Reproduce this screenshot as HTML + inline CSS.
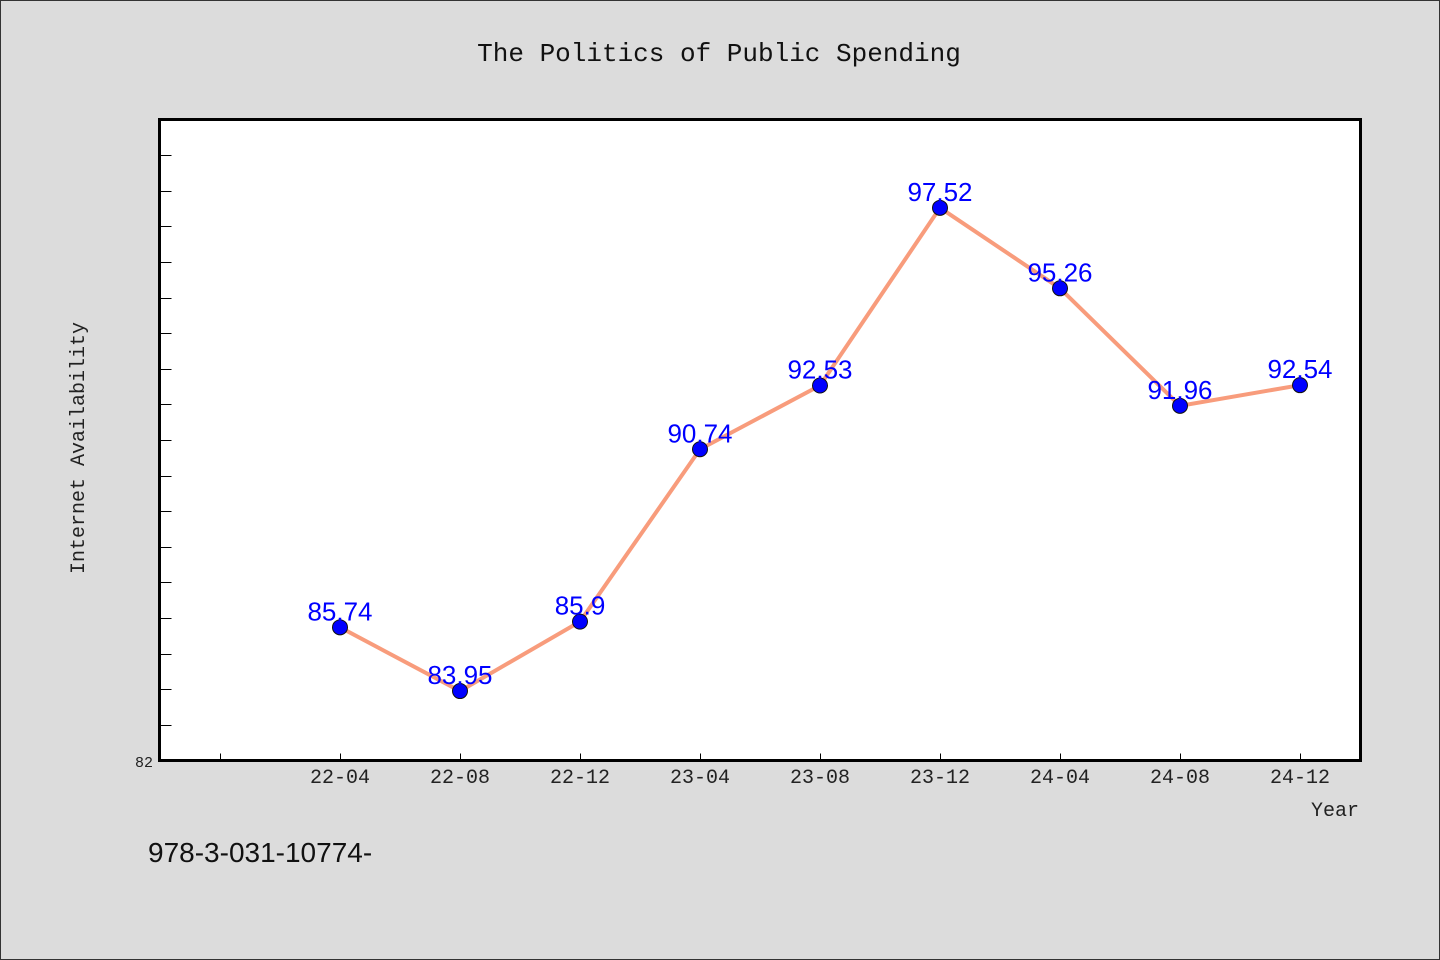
<!DOCTYPE html>
<html><head><meta charset="utf-8"><style>
html,body{margin:0;padding:0;background:#dcdcdc;}
svg{display:block;font-family:"Liberation Mono","WenQuanYi Zen Hei",monospace;}
</style></head><body>
<svg width="1440" height="960" viewBox="0 0 1440 960" xmlns="http://www.w3.org/2000/svg">
<rect x="0.5" y="0.5" width="1439" height="959" fill="#dcdcdc" stroke="#333"/>
<text x="719" y="61" text-anchor="middle" font-size="26" fill="#111">The Politics of Public Spending</text>
<rect x="159.5" y="119.5" width="1201" height="641" fill="#fff"/>
<g id="ticks"></g>
<polyline id="line" fill="none" stroke="#f89c7c" stroke-width="4"/>
<g id="pts"></g>
<rect x="159.5" y="119.5" width="1201" height="641" fill="none" stroke="#000" stroke-width="3"/>
<text transform="translate(84,448) rotate(-90)" text-anchor="middle" font-size="20" fill="#222">Internet Availability</text>
<text x="1359" y="816" text-anchor="end" font-size="20" fill="#222">Year</text>
<text x="153" y="767" text-anchor="end" font-size="15" fill="#222">82</text>
<text x="148" y="862" font-size="28" fill="#111" font-family="Liberation Sans, sans-serif">978-3-031-10774-</text>
</svg>
<script>
const categories=["22-04","22-08","22-12","23-04","23-08","23-12","24-04","24-08","24-12"];
const values=[85.74,83.95,85.9,90.74,92.53,97.52,95.26,91.96,92.54];
const labels=["85.74","83.95","85.9","90.74","92.53","97.52","95.26","91.96","92.54"];
const yMin=82,yMax=100;
const NS="http://www.w3.org/2000/svg";
const X0=159.5,X1=1360.5,Y0=760.5,Y1=119.5;
function xs(i){return 340+120*i;}
function ys(v){return Y0-(v-yMin)/(yMax-yMin)*(Y0-Y1);}
const tg=document.getElementById('ticks');
for(let v=yMin+1;v<yMax;v++){
 const l=document.createElementNS(NS,'line');
 
 
 l.setAttribute('x1',X0);l.setAttribute('x2',X0+12);
 l.setAttribute('y1',Math.round(ys(v))+0.5);l.setAttribute('y2',Math.round(ys(v))+0.5);
 l.setAttribute('stroke','#000');tg.appendChild(l);
}
for(let i=-1;i<categories.length;i++){
 const l=document.createElementNS(NS,'line');
 
 
 l.setAttribute('x1',xs(i)+0.5);l.setAttribute('x2',xs(i)+0.5);
 l.setAttribute('y1',Y0-7);l.setAttribute('y2',Y0);
 l.setAttribute('stroke','#000');tg.appendChild(l);
 if(i>=0){
  const t=document.createElementNS(NS,'text');
  
  
  t.setAttribute('x',xs(i));t.setAttribute('y',783);
  t.setAttribute('text-anchor','middle');t.setAttribute('font-size','20');t.setAttribute('fill','#222');
  t.textContent=categories[i];tg.appendChild(t);
 }
}
document.getElementById('line').setAttribute('points',values.map((v,i)=>xs(i)+','+ys(v)).join(' '));
const pg=document.getElementById('pts');
values.forEach((v,i)=>{
 const c=document.createElementNS(NS,'circle');
 
 
 c.setAttribute('cx',xs(i));c.setAttribute('cy',ys(v));c.setAttribute('r',7.5);
 c.setAttribute('fill','#0000ff');c.setAttribute('stroke','#111');c.setAttribute('stroke-width','1');
 pg.appendChild(c);
 const t=document.createElementNS(NS,'text');
 
 
 t.setAttribute('x',xs(i));t.setAttribute('y',ys(v)-7);
 t.setAttribute('text-anchor','middle');t.setAttribute('font-size','26');t.setAttribute('fill','#0000ff');
 t.setAttribute('font-family','Liberation Sans, sans-serif');
 t.textContent=labels[i];pg.appendChild(t);
});
</script>
</body></html>
